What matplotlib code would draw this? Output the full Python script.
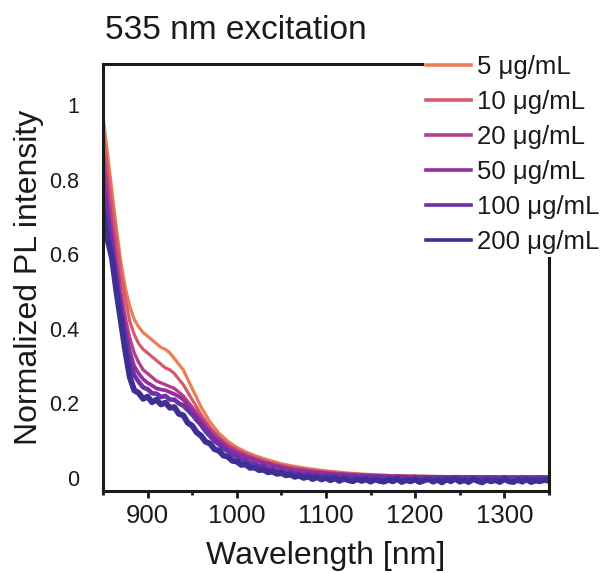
import matplotlib
matplotlib.use("Agg")
import matplotlib.pyplot as plt
from matplotlib.ticker import MultipleLocator, FuncFormatter

plt.rcParams['font.family'] = ['Liberation Sans', 'DejaVu Sans']

# Emission wavelengths (nm) for the smoother, low-concentration spectra
wavelength = [850, 855, 860, 865, 870, 875, 880, 885, 890, 895, 900, 905, 910,
              915, 920, 925, 930, 935, 940, 945, 950, 955, 960, 970, 980, 990,
              1000, 1010, 1020, 1030, 1040, 1050, 1060, 1080, 1100, 1125, 1150,
              1175, 1200, 1250, 1300, 1350]
# 5 nm sampling for the noisier high-concentration spectra
wavelength_fine = list(range(850, 1355, 5))

# Normalized PL intensity per concentration
pl_5 = [0.97, 0.87, 0.77, 0.67, 0.58, 0.51, 0.46, 0.425, 0.405, 0.39, 0.38, 0.37, 0.36,
        0.35, 0.345, 0.335, 0.32, 0.305, 0.29, 0.265, 0.24, 0.215, 0.19, 0.15, 0.12, 0.098,
        0.082, 0.07, 0.06, 0.052, 0.045, 0.038, 0.033, 0.025, 0.019, 0.013, 0.009,
        0.006, 0.005, 0.003, 0.003, 0.002]
pl_10 = [0.93, 0.83, 0.73, 0.64, 0.55, 0.48, 0.42, 0.385, 0.36, 0.345, 0.335, 0.325, 0.315,
         0.305, 0.295, 0.29, 0.28, 0.265, 0.25, 0.23, 0.21, 0.19, 0.17, 0.135, 0.11, 0.09,
         0.076, 0.065, 0.055, 0.047, 0.04, 0.034, 0.029, 0.022, 0.016, 0.011, 0.008,
         0.006, 0.004, 0.003, 0.002, 0.002]
pl_20 = [0.88, 0.78, 0.68, 0.59, 0.50, 0.43, 0.375, 0.335, 0.31, 0.29, 0.28, 0.27, 0.26,
         0.255, 0.25, 0.245, 0.24, 0.23, 0.22, 0.205, 0.19, 0.175, 0.16, 0.13, 0.105, 0.085,
         0.072, 0.061, 0.052, 0.044, 0.037, 0.031, 0.026, 0.019, 0.014, 0.01, 0.007,
         0.005, 0.004, 0.003, 0.002, 0.002]
pl_50 = [0.83, 0.73, 0.64, 0.55, 0.47, 0.40, 0.34, 0.30, 0.28, 0.265, 0.255, 0.248, 0.24,
         0.237, 0.235, 0.23, 0.225, 0.218, 0.21, 0.195, 0.18, 0.165, 0.15, 0.12, 0.098, 0.08,
         0.067, 0.057, 0.048, 0.04, 0.034, 0.028, 0.023, 0.017, 0.012, 0.008, 0.006,
         0.004, 0.003, 0.003, 0.002, 0.002]
pl_100 = [0.78, 0.70, 0.61, 0.53, 0.45, 0.38, 0.31, 0.275, 0.258, 0.243,
          0.238, 0.227, 0.226, 0.217, 0.22, 0.21, 0.21, 0.2, 0.194, 0.182,
          0.17, 0.155, 0.142, 0.125, 0.112, 0.099, 0.09, 0.079, 0.072, 0.062,
          0.058, 0.05, 0.047, 0.04, 0.038, 0.032, 0.031, 0.025, 0.025, 0.019,
          0.02, 0.014, 0.016, 0.011, 0.012, 0.008, 0.01, 0.006, 0.008, 0.004,
          0.007, 0.003, 0.006, 0.002, 0.005, 0.001, 0.004, 0.0, 0.004, 0.001,
          0.003, -0.001, 0.003, 0.0, 0.002, -0.002, 0.003, 0.0, 0.002, -0.001,
          0.003, -0.001, 0.002, -0.002, 0.002, 0.0, 0.002, -0.001, 0.001, -0.001,
          0.002, -0.002, 0.002, 0.0, 0.001, -0.001, 0.002, -0.001, 0.001, -0.002,
          0.002, -0.001, 0.001, -0.001, 0.002, 0.0, 0.001, -0.001, 0.002, -0.001,
          0.001]
pl_200 = [0.72, 0.64, 0.59, 0.50, 0.42, 0.34, 0.27, 0.235, 0.228, 0.212,
          0.218, 0.203, 0.21, 0.197, 0.202, 0.188, 0.19, 0.172, 0.168, 0.148,
          0.14, 0.122, 0.113, 0.097, 0.092, 0.077, 0.073, 0.06, 0.057, 0.046,
          0.044, 0.035, 0.036, 0.027, 0.028, 0.021, 0.022, 0.015, 0.017, 0.011,
          0.013, 0.007, 0.009, 0.003, 0.006, 0.0, 0.004, -0.003, 0.002, -0.004,
          0.0, -0.006, -0.001, -0.008, -0.002, -0.006, -0.009, -0.003, -0.008, -0.004,
          -0.01, -0.004, -0.008, -0.01, -0.005, -0.009, -0.003, -0.011, -0.006, -0.009,
          -0.004, -0.011, -0.007, -0.003, -0.01, -0.005, -0.012, -0.004, -0.009, -0.002,
          -0.01, -0.006, -0.011, -0.003, -0.008, -0.012, -0.005, -0.009, -0.006, -0.011,
          -0.003, -0.009, -0.011, -0.005, -0.01, -0.004, -0.011, -0.007, -0.009, -0.005,
          -0.008]

labels = ["5 \u03bcg/mL", "10 \u03bcg/mL", "20 \u03bcg/mL",
          "50 \u03bcg/mL", "100 \u03bcg/mL", "200 \u03bcg/mL"]
xs = [wavelength, wavelength, wavelength, wavelength, wavelength_fine, wavelength_fine]
series = [pl_5, pl_10, pl_20, pl_50, pl_100, pl_200]
colors = ["#EC7D55", "#D65A6B", "#B3408A", "#962D9C", "#6A32A6", "#3F2F95"]
widths = [2.3, 2.3, 2.4, 2.7, 3.3, 4.2]

fig = plt.figure(figsize=(6.03, 5.73), dpi=100)
ax = fig.add_axes([0.1708, 0.1431, 0.7396, 0.7452])

handles = []
for x, y, c, lw, lab in zip(xs, series, colors, widths, labels):
    ax.plot(x, y, color=c, lw=lw, solid_capstyle='round', solid_joinstyle='round')
    h, = ax.plot([], [], color=c, lw=2.6, label=lab)
    handles.append(h)

ax.set_xlim(850, 1350)
ax.set_ylim(-0.035, 1.11)

for s in ax.spines.values():
    s.set_linewidth(2.2)
    s.set_color('#1a1a1a')

ax.xaxis.set_major_locator(MultipleLocator(100))
ax.xaxis.set_minor_locator(MultipleLocator(50))
ax.yaxis.set_major_locator(MultipleLocator(0.2))
ax.yaxis.set_major_formatter(FuncFormatter(lambda v, p: f"{v:g}"))
ax.tick_params(axis='x', which='major', direction='out', length=5, width=2,
               labelsize=18.5, pad=4, colors='#1a1a1a')
ax.tick_params(axis='x', which='minor', direction='out', length=3, width=2,
               colors='#1a1a1a')
ax.tick_params(axis='y', which='both', length=0, labelsize=15.5, pad=17,
               colors='#1a1a1a')

ax.set_xlabel("Wavelength [nm]", fontsize=23, labelpad=10, color='#1a1a1a')
ax.set_ylabel("Normalized PL intensity", fontsize=23, labelpad=4, color='#1a1a1a')
fig.text(0.174, 0.947, "535 nm excitation", fontsize=24, ha='left', va='center',
         color='#1a1a1a')

leg = ax.legend(handles=handles, loc='upper left', bbox_to_anchor=(0.703, 0.909),
                bbox_transform=fig.transFigure, frameon=True, facecolor='white',
                edgecolor='none', framealpha=1, fontsize=18.5, handlelength=1.75,
                handletextpad=0.2, labelspacing=0.43, borderpad=0.1,
                borderaxespad=0)
for t in leg.get_texts():
    t.set_color('#1a1a1a')

fig.savefig("out.png", dpi=100)
